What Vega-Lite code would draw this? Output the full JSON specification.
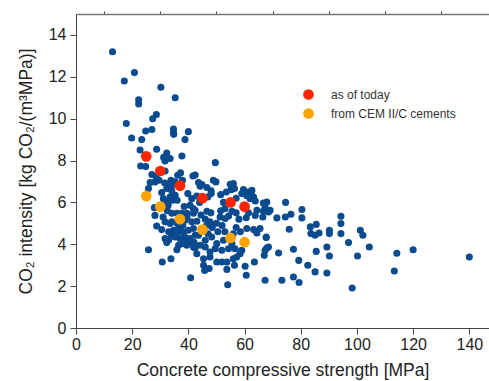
{
  "$schema": "https://vega.github.io/schema/vega-lite/v6.json",
  "width": 413,
  "height": 314,
  "autosize": {"type": "none"},
  "padding": {"left": 76, "top": 14, "right": 0, "bottom": 53},
  "config": {
    "view": {"stroke": null},
    "font": "Liberation Sans",
    "axis": {"labelFont": "Liberation Sans", "titleFont": "Liberation Sans", "labelFontSize": 16, "titleFontSize": 17.5, "titleFontWeight": "normal", "labelColor": "#222", "titleColor": "#222", "domainColor": "#444", "tickColor": "#444", "grid": false}
  },
  "datasets": {
    "blue": [
      {"x":13,"y":13.2},{"x":17.2,"y":11.8},{"x":20.8,"y":12.2},{"x":30.2,"y":11.5},{"x":35.3,"y":11.0},
      {"x":22.3,"y":10.9},{"x":22.3,"y":10.7},{"x":17.9,"y":9.77},{"x":28.6,"y":10.2},{"x":27.3,"y":10.0},
      {"x":19.8,"y":9.08},{"x":24.8,"y":9.41},{"x":27,"y":9.48},{"x":23.4,"y":9.0},{"x":34.7,"y":9.5},
      {"x":34.7,"y":9.33},{"x":34.8,"y":9.25},{"x":40,"y":9.38},{"x":38.8,"y":9.0},{"x":22.8,"y":8.5},
      {"x":28.7,"y":8.54},{"x":32.3,"y":8.36},{"x":31.2,"y":8.15},{"x":33.5,"y":8.1},{"x":31.7,"y":7.98},
      {"x":37.7,"y":8.22},{"x":49.6,"y":7.9},{"x":23,"y":7.74},{"x":24.8,"y":7.71},{"x":27,"y":7.33},
      {"x":28.5,"y":7.25},{"x":31.7,"y":7.5},{"x":37.2,"y":7.41},{"x":41.6,"y":7.26},{"x":42.4,"y":7.31},
      {"x":36.2,"y":7.3},{"x":37.9,"y":7.06},{"x":26.4,"y":6.95},{"x":28.1,"y":6.98},{"x":29.6,"y":7.06},
      {"x":25.8,"y":6.66},{"x":30.5,"y":6.47},{"x":31.6,"y":6.93},{"x":33.8,"y":7.06},{"x":34.4,"y":6.85},
      {"x":33,"y":6.82},{"x":32.3,"y":6.66},{"x":35.3,"y":6.98},{"x":33.5,"y":6.66},{"x":43.6,"y":6.95},
      {"x":44.8,"y":6.85},{"x":44.2,"y":6.77},{"x":46.6,"y":6.71},{"x":48.1,"y":6.55},{"x":48.9,"y":7.06},
      {"x":49.8,"y":6.98},{"x":48.1,"y":6.42},{"x":46.9,"y":6.26},{"x":51.5,"y":6.37},{"x":54.9,"y":6.87},
      {"x":56,"y":6.9},{"x":55.2,"y":6.61},{"x":56.4,"y":6.66},{"x":59.6,"y":6.61},{"x":59,"y":6.42},
      {"x":61.4,"y":6.5},{"x":60.8,"y":6.32},{"x":62.3,"y":6.42},{"x":63.2,"y":6.26},{"x":62,"y":6.18},
      {"x":62.6,"y":6.58},{"x":63.8,"y":6.07},{"x":66.7,"y":5.97},{"x":67.9,"y":6.02},{"x":67.3,"y":5.78},
      {"x":69.1,"y":5.62},{"x":74.6,"y":6.0},{"x":80.4,"y":5.66},{"x":80.4,"y":5.26},{"x":71.5,"y":5.26},
      {"x":74.5,"y":5.3},{"x":76.5,"y":5.43},{"x":75.9,"y":4.72},{"x":83.4,"y":4.83},{"x":85.5,"y":4.95},
      {"x":83.6,"y":4.51},{"x":86.5,"y":4.54},{"x":85.1,"y":4.43},{"x":90.2,"y":4.67},{"x":90.2,"y":4.51},
      {"x":94.3,"y":5.34},{"x":94.3,"y":4.99},{"x":94.3,"y":4.51},{"x":101.2,"y":4.67},{"x":102.1,"y":4.43},
      {"x":97,"y":4.08},{"x":104.4,"y":3.87},{"x":100.2,"y":3.44},{"x":98.3,"y":1.91},{"x":113.3,"y":2.72},
      {"x":114.2,"y":3.57},{"x":120,"y":3.74},{"x":140,"y":3.39},{"x":77.4,"y":3.76},{"x":85.5,"y":3.66},
      {"x":89.3,"y":3.87},{"x":90.2,"y":3.44},{"x":79.3,"y":3.23},{"x":82.5,"y":3.0},{"x":85.1,"y":2.68},
      {"x":89.3,"y":2.63},{"x":77.4,"y":2.44},{"x":79.4,"y":2.17},{"x":73.3,"y":2.28},{"x":67.3,"y":2.28},
      {"x":72.1,"y":3.58},{"x":67.9,"y":3.82},{"x":67,"y":3.47},{"x":67.7,"y":4.32},{"x":68.5,"y":3.87},
      {"x":63.5,"y":3.15},{"x":60.2,"y":2.95},{"x":60.6,"y":2.52},{"x":54,"y":2.07},{"x":61.4,"y":5.5},
      {"x":64.4,"y":5.62},{"x":66.7,"y":5.59},{"x":68.5,"y":5.54},{"x":60.6,"y":5.27},{"x":66.5,"y":5.3},
      {"x":60.8,"y":4.75},{"x":63.2,"y":4.7},{"x":64.4,"y":4.54},{"x":65.5,"y":4.75},{"x":67.7,"y":4.35},
      {"x":59,"y":3.71},{"x":42.4,"y":5.62},{"x":46.6,"y":5.58},{"x":55.5,"y":5.58},{"x":47.7,"y":5.07},
      {"x":51.3,"y":5.3},{"x":53.1,"y":5.23},{"x":54.3,"y":5.35},{"x":63.8,"y":5.38},{"x":67.3,"y":3.71},
      {"x":45.4,"y":3.0},{"x":47.4,"y":2.84},{"x":45.8,"y":2.75},{"x":53.7,"y":2.8},{"x":50.1,"y":3.15},
      {"x":51.9,"y":3.15},{"x":53.7,"y":3.15},{"x":56,"y":3.31},{"x":57.2,"y":3.39},{"x":56.4,"y":3.0},
      {"x":43,"y":3.55},{"x":42.4,"y":3.82},{"x":45.4,"y":3.31},{"x":47.7,"y":3.39},{"x":43.6,"y":4.43},
      {"x":46,"y":4.19},{"x":48.3,"y":4.35},{"x":50.1,"y":4.03},{"x":49.5,"y":3.79},{"x":51.9,"y":3.71},
      {"x":54.3,"y":3.79},{"x":56.6,"y":3.79},{"x":58.4,"y":3.55},{"x":52.5,"y":4.19},{"x":55.5,"y":4.03},
      {"x":46,"y":3.87},{"x":47.7,"y":3.63},{"x":44.2,"y":3.95},{"x":28.7,"y":4.87},{"x":31.7,"y":5.07},
      {"x":33.5,"y":4.99},{"x":31.7,"y":4.27},{"x":32.3,"y":4.08},{"x":25.8,"y":3.74},{"x":30.7,"y":3.15},
      {"x":33.8,"y":3.31},{"x":40.8,"y":2.4},{"x":35.9,"y":3.74},{"x":37.7,"y":4.03},{"x":39.4,"y":3.95},
      {"x":40.6,"y":4.11},{"x":34.7,"y":4.67},{"x":36.5,"y":4.75},{"x":38.2,"y":4.59},{"x":40,"y":4.67},
      {"x":41.8,"y":4.75},{"x":35.3,"y":4.35},{"x":37,"y":4.27},{"x":38.8,"y":4.35},{"x":40.6,"y":4.27},
      {"x":42.4,"y":4.43},{"x":36.5,"y":3.95},{"x":41.8,"y":3.87},{"x":34.1,"y":5.07},{"x":38.8,"y":5.15},
      {"x":41.2,"y":5.07},{"x":28.1,"y":5.38},{"x":27.9,"y":5.75},{"x":31.1,"y":6.18},{"x":32.3,"y":6.02},
      {"x":32.8,"y":5.86},{"x":34.1,"y":6.55},{"x":35.3,"y":6.34},{"x":34.3,"y":6.1},{"x":33.5,"y":6.26},
      {"x":34.1,"y":5.48},{"x":35.9,"y":5.48},{"x":37.7,"y":5.48},{"x":39.4,"y":5.48},{"x":41.8,"y":5.48},
      {"x":39.8,"y":6.42},{"x":41.2,"y":6.18},{"x":40.6,"y":5.86},{"x":41.8,"y":5.7},{"x":44.5,"y":5.4},
      {"x":46,"y":5.2},{"x":48,"y":5.5},{"x":50,"y":5.0},{"x":52,"y":4.9},{"x":48.5,"y":4.8},
      {"x":46.5,"y":4.9},{"x":43,"y":5.1},{"x":51.5,"y":5.6},{"x":53,"y":5.7},{"x":57,"y":5.5},
      {"x":58,"y":5.2},{"x":57,"y":4.8},{"x":58.5,"y":4.6},{"x":56,"y":4.5},{"x":53,"y":4.6},
      {"x":50.5,"y":4.6},{"x":47,"y":4.5},{"x":31,"y":5.3},{"x":32.5,"y":5.6},{"x":36,"y":5.0},
      {"x":38,"y":4.9},{"x":39.5,"y":5.3},{"x":33,"y":4.6},{"x":34,"y":4.4},{"x":36,"y":4.5},
      {"x":33,"y":4.2},{"x":30.5,"y":4.7},{"x":38.5,"y":4.15},{"x":42,"y":4.1},{"x":36,"y":6.1},
      {"x":38.5,"y":5.8},{"x":43,"y":6.3},{"x":44,"y":6.0},{"x":57,"y":6.2},{"x":52.5,"y":6.0},
      {"x":53.5,"y":6.5}
    ],
    "highlight": [
      {"x":25,"y":8.2,"series":"as of today"},{"x":30,"y":7.5,"series":"as of today"},
      {"x":37,"y":6.8,"series":"as of today"},{"x":45,"y":6.2,"series":"as of today"},
      {"x":55,"y":6.0,"series":"as of today"},{"x":60,"y":5.8,"series":"as of today"},
      {"x":25,"y":6.3,"series":"from CEM II/C cements"},{"x":30,"y":5.8,"series":"from CEM II/C cements"},
      {"x":37,"y":5.2,"series":"from CEM II/C cements"},{"x":45,"y":4.7,"series":"from CEM II/C cements"},
      {"x":55,"y":4.3,"series":"from CEM II/C cements"},{"x":60,"y":4.1,"series":"from CEM II/C cements"}
    ]
  },
  "layer": [
    {
      "data": {"name": "blue"},
      "mark": {"type": "circle", "size": 50, "color": "#0a4b8f", "opacity": 1},
      "encoding": {
        "x": {"field": "x", "type": "quantitative", "scale": {"domain": [0, 147], "nice": false, "zero": false},
              "axis": {"values": [0,20,40,60,80,100,120,140], "title": "Concrete compressive strength [MPa]", "tickSize": 6, "labelPadding": 2, "titlePadding": 9, "labelFlush": false}},
        "y": {"field": "y", "type": "quantitative", "scale": {"domain": [0, 15], "nice": false, "zero": false},
              "axis": {"values": [0,2,4,6,8,10,12,14], "title": "CO₂ intensity [kg CO₂/(m³MPa)]", "tickSize": 6, "labelPadding": 4, "titlePadding": 13}}
      }
    },
    {
      "data": {"name": "highlight"},
      "mark": {"type": "circle", "size": 115, "opacity": 1},
      "encoding": {
        "x": {"field": "x", "type": "quantitative",
              "axis": {"values": [10,30,50,70,90,110,130], "labels": false, "domain": false, "tickSize": 3, "title": null}},
        "y": {"field": "y", "type": "quantitative",
              "axis": {"values": [1,3,5,7,9,11,13], "labels": false, "domain": false, "tickSize": 3, "title": null}},
        "color": {"field": "series", "type": "nominal",
                  "scale": {"domain": ["as of today", "from CEM II/C cements"], "range": ["#ff2400", "#ffa300"]},
                  "legend": {"title": null, "orient": "none", "legendX": 226, "legendY": 74, "symbolType": "circle", "symbolSize": 115, "labelFontSize": 12, "labelFont": "Liberation Sans", "labelColor": "#333", "labelOffset": 16, "rowPadding": 6}}
      }
    },
    {
      "data": {"name": "highlight"},
      "mark": {"type": "point", "opacity": 0},
      "encoding": {
        "x": {"field": "x", "type": "quantitative",
              "axis": {"orient": "top", "labels": false, "ticks": false, "title": null, "domainColor": "#777", "domainWidth": 1.5}},
        "y": {"field": "y", "type": "quantitative", "axis": null}
      }
    }
  ],
  "resolve": {"axis": {"x": "independent", "y": "independent"}}
}
